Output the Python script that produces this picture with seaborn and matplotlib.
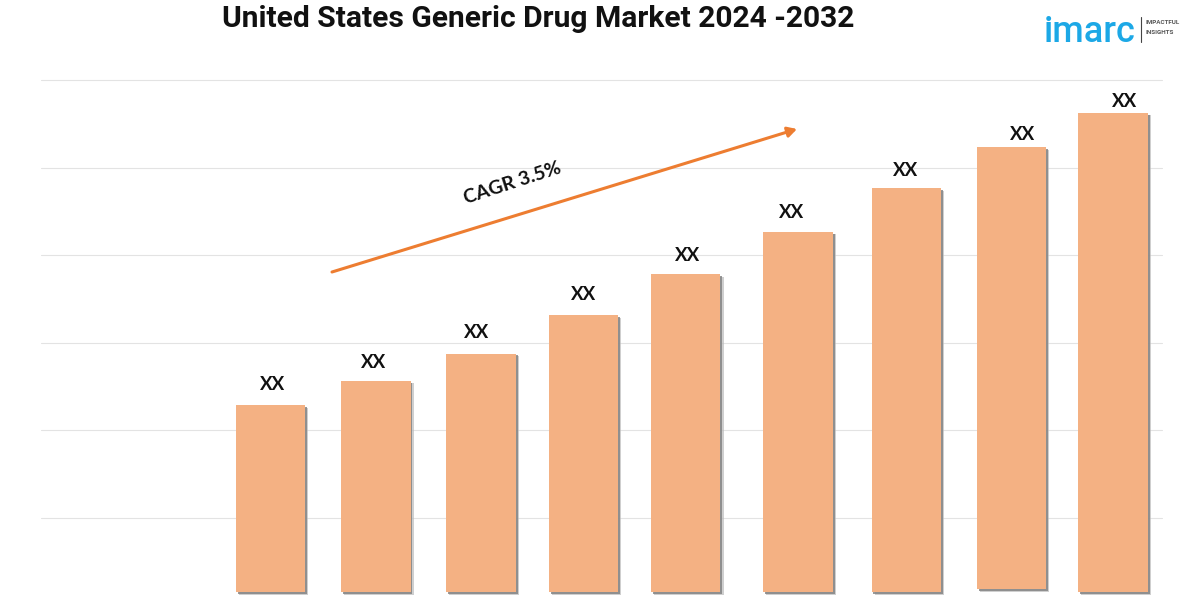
import matplotlib
matplotlib.use("Agg")
import matplotlib.pyplot as plt
import matplotlib.patheffects as pe
import pandas as pd
import seaborn as sns

years = ["2024", "2025", "2026", "2027", "2028", "2029", "2030", "2031", "2032"]
values = [2.13, 2.41, 2.72, 3.16, 3.63, 4.11, 4.61, 5.08, 5.47]
value_labels = ["XX"] * 9
grid_ticks = [0.845, 1.845, 2.845, 3.845, 4.845, 5.845]
title = "United States Generic Drug Market 2024 -2032"
cagr_label = "CAGR 3.5%"

# small hand tweaks, in pixels, the bars in the picture are not evenly spaced
bar_shift = [0, 0, 0, -3, -6, 1, 4, 4, 0]
bar_lift = [0, 0, 0, 0, 0, 0, 0, 3, 0]
label_dx = [2, -2, -5, 0, 2, -6, -0.5, 10.5, 12]
label_dy = [12, 10, 13, 12, 10, 11, 9, 4, 3]

sns.set_theme(style="white")
plt.rcParams["font.family"] = ["Lato", "DejaVu Sans"]

fig = plt.figure(figsize=(12, 6), dpi=100)
ax = fig.add_axes([41 / 1200, 0, 1121 / 1200, 520 / 600])

df = pd.DataFrame({"year": years, "value": values})
sns.barplot(data=df, x="year", y="value", color="#F4B183", saturation=1, width=0.66,
            linewidth=0, edgecolor="none", ax=ax)

px = 105.3
py = 87.6
ax.set_xlim((41 - 270.5) / px, (1162 - 270.5) / px)
ax.set_ylim(-8 / py, 512 / py)

ax.set_yticks(grid_ticks)
ax.set_xlabel("")
ax.set_ylabel("")
ax.tick_params(left=False, bottom=False, labelleft=False, labelbottom=False)
ax.set_axisbelow(True)
ax.grid(axis="y", color="#e3e3e3", lw=0.8, clip_on=False)
ax.grid(axis="x", visible=False)
sns.despine(ax=ax, left=True, bottom=True, top=True, right=True)

shadow = [
    pe.SimplePatchShadow(offset=(2.2, -1.8), shadow_rgbFace="#bbbbbb", alpha=0.7),
    pe.SimplePatchShadow(offset=(1.4, -1.2), shadow_rgbFace="#808080", alpha=0.8),
    pe.Normal(),
]
for bar, value, shift, lift, text, dx, dy in zip(ax.patches, values, bar_shift, bar_lift,
                                                 value_labels, label_dx, label_dy):
    bar.set_x(bar.get_x() + shift / px)
    bar.set_y(lift / py)
    bar.set_height(value - lift / py)
    bar.set_path_effects(shadow)
    ax.annotate(text, (bar.get_x() + bar.get_width() / 2, value),
                xytext=(dx, dy), textcoords="offset pixels", ha="center", va="bottom",
                fontsize=13.5, fontweight="bold", color="#111111")

# growth arrow
ax.annotate("", xy=(797, 600 - 129), xytext=(332, 600 - 272), xycoords="figure pixels",
            textcoords="figure pixels",
            arrowprops=dict(arrowstyle="-|>,head_length=0.45,head_width=0.25", color="#ED7D31",
                            lw=2.2, shrinkA=0, shrinkB=0))
fig.text(512 / 1200, 1 - 183 / 600, cagr_label, rotation=18, ha="center", va="center",
         fontsize=14, fontweight="bold", color="#111111", rotation_mode="anchor")

fig.text(538 / 1200, 1 - 19 / 600, title, ha="center", va="center", fontsize=21.6,
         fontweight="bold", family="Roboto", color="#111111")

# logo
fig.text(1044 / 1200, 1 - 42 / 600, "imarc", ha="left", va="baseline", fontsize=26,
         family="Roboto", fontweight="medium", color="#1CA8E6")
fig.add_artist(plt.Line2D([1141 / 1200] * 2, [1 - 17 / 600, 1 - 42 / 600], color="#444444", lw=0.8))
fig.text(1145 / 1200, 1 - 23 / 600, "IMPACTFUL", ha="left", va="center", fontsize=4.5,
         fontweight="bold", family="Roboto", color="#555555")
fig.text(1145 / 1200, 1 - 33 / 600, "INSIGHTS", ha="left", va="center", fontsize=4.5,
         fontweight="bold", family="Roboto", color="#555555")

fig.savefig("out.png", dpi=100)
